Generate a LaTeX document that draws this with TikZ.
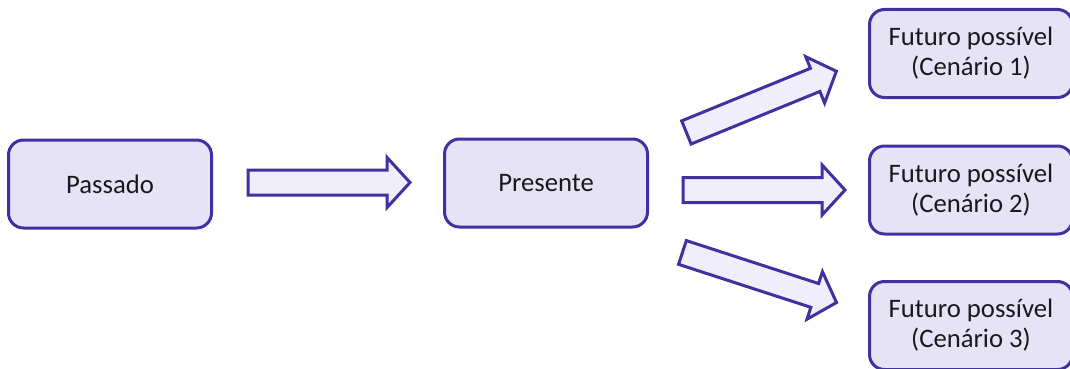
\documentclass[tikz,border=0pt]{standalone}
\usepackage{fontspec}
\setmainfont{Carlito}
\usetikzlibrary{shapes.arrows}
\definecolor{edge}{HTML}{4030A0}
\definecolor{boxfill}{HTML}{E6E3F6}
\definecolor{arrfill}{HTML}{EFEEFA}
\tikzset{
  stagebox/.style={draw=edge, fill=boxfill, line width=3pt, rounded corners=15pt,
    minimum width=203pt, minimum height=88pt, inner sep=0pt, align=center,
    font=\fontsize{26.7pt}{30pt}\selectfont, text=black!90},
  bigarrow/.style={single arrow, draw=edge, fill=arrfill, line width=3pt,
    inner xsep=0pt, inner ysep=11pt, minimum width=47pt, single arrow head extend=12.5pt,
    single arrow tip angle=95, minimum height=162pt, anchor=tail}
}
\begin{document}
\begin{tikzpicture}[x=1pt,y=-1pt]
\useasboundingbox (0,0) rectangle (1070,369);
\node[stagebox] (passado) at (110,184) {Passado};
\node[stagebox] (presente) at (546,183) {Presente};
\node[stagebox] (f1) at (971,53.5) {Futuro possível\\(Cenário 1)};
\node[stagebox] (f2) at (971,190) {Futuro possível\\(Cenário 2)};
\node[stagebox] (f3) at (971,325.5) {Futuro possível\\(Cenário 3)};
\node[bigarrow] (a0) at (246.5,182.5) {};
\node[bigarrow] (a2) at (681.5,190) {};
\node[bigarrow, rotate=22.2] (a1) at (685,133) {};
\node[bigarrow, rotate=-18] (a3) at (681,252) {};
\end{tikzpicture}
\end{document}
